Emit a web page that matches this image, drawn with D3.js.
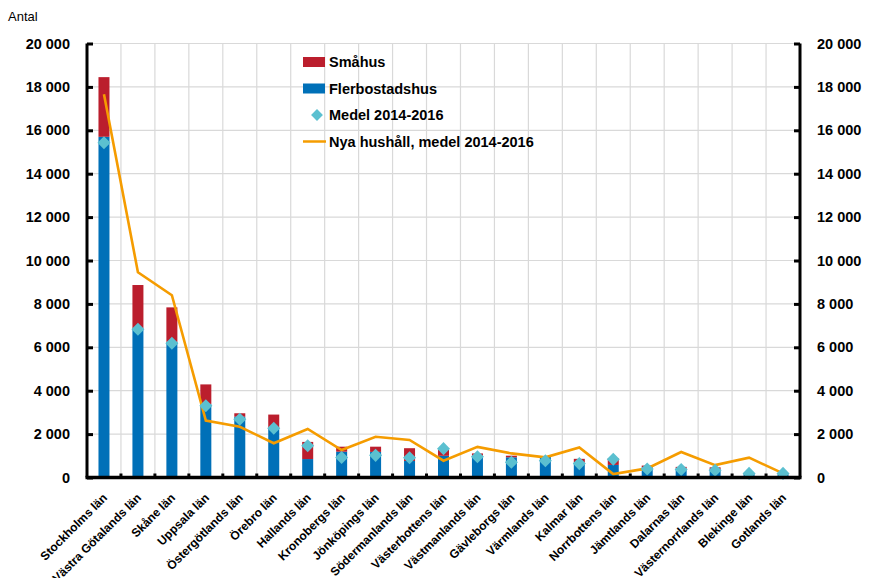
<!DOCTYPE html>
<html>
<head>
<meta charset="utf-8">
<script src="https://cdn.jsdelivr.net/npm/d3@7"></script>
<style>
  html, body { margin: 0; padding: 0; background: #fff; }
  svg { display: block; font-family: "Liberation Sans", Arial, sans-serif; }
</style>
</head>
<body>
<svg id="chart" width="873" height="578"></svg>
<script>
// Län, sorted by total number of completed dwellings
const categories = [
  "Stockholms län", "Västra Götalands län", "Skåne län", "Uppsala län",
  "Östergötlands län", "Örebro län", "Hallands län", "Kronobergs län",
  "Jönköpings län", "Södermanlands län", "Västerbottens län", "Västmanlands län",
  "Gävleborgs län", "Värmlands län", "Kalmar län", "Norrbottens län",
  "Jämtlands län", "Dalarnas län", "Västernorrlands län", "Blekinge län", "Gotlands län"
];
// Flerbostadshus (blue, bottom of stack)
const flerbostadshus = [15700, 6870, 6250, 3390, 2800, 2270, 850, 1190, 1180, 760,
  1000, 1000, 930, 960, 690, 580, 470, 420, 380, 170, 130];
// Småhus (red, on top)
const smahus = [2750, 2000, 1590, 900, 160, 630, 790, 230, 240, 590,
  270, 110, 75, 30, 170, 300, 80, 70, 90, 30, 20];
// Medel 2014-2016 (diamonds)
const medel = [15430, 6830, 6190, 3310, 2680, 2270, 1460, 920, 1020, 910,
  1330, 960, 700, 770, 640, 840, 390, 370, 330, 190, 190];
// Nya hushåll, medel 2014-2016 (line)
const nyaHushall = [17660, 9460, 8400, 2620, 2340, 1580, 2235, 1267, 1880, 1730,
  775, 1410, 1110, 930, 1380, 160, 420, 1175, 570, 915, 190];
const yTicks = [0, 2000, 4000, 6000, 8000, 10000, 12000, 14000, 16000, 18000, 20000];

const svg = d3.select("#chart");
const plot = { left: 87, right: 800, top: 43.5, bottom: 477.5 };

const x = d3.scaleBand().domain(categories).range([plot.left, plot.right]).paddingInner(0).paddingOuter(0);
const y = d3.scaleLinear().domain([0, 20000]).range([plot.bottom, plot.top]);
const barW = 11;
const fmt = v => d3.format(",")(v).replace(/,/g, " ");

// grid
const grid = svg.append("g").attr("stroke", "#d9d9d9").attr("stroke-width", 1.2);
yTicks.filter(t => t > 0).forEach(t => {
  grid.append("line").attr("x1", plot.left).attr("x2", plot.right)
    .attr("y1", y(t)).attr("y2", y(t));
});
categories.slice(1).forEach(c => {
  grid.append("line").attr("x1", x(c)).attr("x2", x(c))
    .attr("y1", plot.top).attr("y2", plot.bottom);
});

// stacked bars
const stack = categories.map((c, i) => ({ c, f: flerbostadshus[i], s: smahus[i] }));
svg.append("g").selectAll("rect.f").data(stack).join("rect")
  .attr("x", d => x(d.c) + x.bandwidth() / 2 - barW / 2)
  .attr("width", barW)
  .attr("y", d => y(d.f))
  .attr("height", d => y(0) - y(d.f))
  .attr("fill", "#0070b8");
svg.append("g").selectAll("rect.s").data(stack).join("rect")
  .attr("x", d => x(d.c) + x.bandwidth() / 2 - barW / 2)
  .attr("width", barW)
  .attr("y", d => y(d.f + d.s))
  .attr("height", d => y(d.f) - y(d.f + d.s))
  .attr("fill", "#bb1e2d");

// line
const line = d3.line().x((d, i) => x(categories[i]) + x.bandwidth() / 2).y(d => y(d));
svg.append("path").datum(nyaHushall).attr("d", line)
  .attr("fill", "none").attr("stroke", "#f59c00").attr("stroke-width", 2.6)
  .attr("stroke-linejoin", "miter");

// diamonds
const diamond = d3.symbol().type(d3.symbolSquare).size(85);
svg.append("g").selectAll("path").data(medel).join("path")
  .attr("d", diamond)
  .attr("transform", (d, i) => `translate(${x(categories[i]) + x.bandwidth() / 2},${y(d)}) rotate(45)`)
  .attr("fill", "#5bc0d0");

// axes
const axL = d3.axisLeft(y).tickValues(yTicks).tickSize(-6).tickPadding(17).tickFormat(fmt);
const axR = d3.axisRight(y).tickValues(yTicks).tickSize(-6).tickPadding(17).tickFormat(fmt);
const styleAxis = g => {
  g.select(".domain").attr("stroke", "#000").attr("stroke-width", 3);
  g.selectAll(".tick line").attr("stroke", "#000").attr("stroke-width", 3);
  g.selectAll(".tick text").attr("font-size", 14.5).attr("font-weight", "bold").attr("fill", "#000");
};
svg.append("g").attr("transform", `translate(${plot.left},0)`).call(axL).call(styleAxis)
  .select(".domain").attr("d", `M0,${plot.top}V${plot.bottom}`);
svg.append("g").attr("transform", `translate(${plot.right},0)`).call(axR).call(styleAxis)
  .select(".domain").attr("d", `M0,${plot.top}V${plot.bottom}`);

// bottom axis with boundary ticks
const bottom = svg.append("g");
bottom.append("line").attr("x1", plot.left - 1.5).attr("x2", plot.right + 1.5)
  .attr("y1", plot.bottom).attr("y2", plot.bottom).attr("stroke", "#000").attr("stroke-width", 3.5);
categories.slice(1).forEach(c => {
  bottom.append("line").attr("x1", x(c)).attr("x2", x(c))
    .attr("y1", plot.bottom).attr("y2", plot.bottom - 4).attr("stroke", "#000").attr("stroke-width", 3);
});

// category labels
svg.append("g").selectAll("text").data(categories).join("text")
  .attr("transform", c => `translate(${x(c) + x.bandwidth() / 2 + 4},${plot.bottom + 21}) rotate(-45)`)
  .attr("text-anchor", "end")
  .attr("font-size", 12).attr("font-weight", "bold").attr("fill", "#000")
  .text(c => c);

// unit label
svg.append("text").attr("x", 8).attr("y", 21).attr("font-size", 13).attr("fill", "#000").text("Antal");

// legend
const legend = svg.append("g").attr("font-size", 14.5).attr("font-weight", "bold");
const items = [
  { label: "Småhus", type: "rect", color: "#bb1e2d" },
  { label: "Flerbostadshus", type: "rect", color: "#0070b8" },
  { label: "Medel 2014-2016", type: "diamond", color: "#5bc0d0" },
  { label: "Nya hushåll, medel 2014-2016", type: "line", color: "#f59c00" }
];
items.forEach((it, i) => {
  const cy = 62 + i * 26.5;
  const g = legend.append("g");
  if (it.type === "rect") {
    g.append("rect").attr("x", 303).attr("y", cy - 5).attr("width", 22).attr("height", 10).attr("fill", it.color);
  } else if (it.type === "diamond") {
    g.append("path").attr("d", d3.symbol().type(d3.symbolSquare).size(70))
      .attr("transform", `translate(317,${cy}) rotate(45)`).attr("fill", it.color);
  } else {
    g.append("line").attr("x1", 303).attr("x2", 326).attr("y1", cy).attr("y2", cy)
      .attr("stroke", it.color).attr("stroke-width", 2.5);
  }
  g.append("text").attr("x", 329).attr("y", cy + 5).attr("fill", "#000").text(it.label);
});
</script>
</body>
</html>
